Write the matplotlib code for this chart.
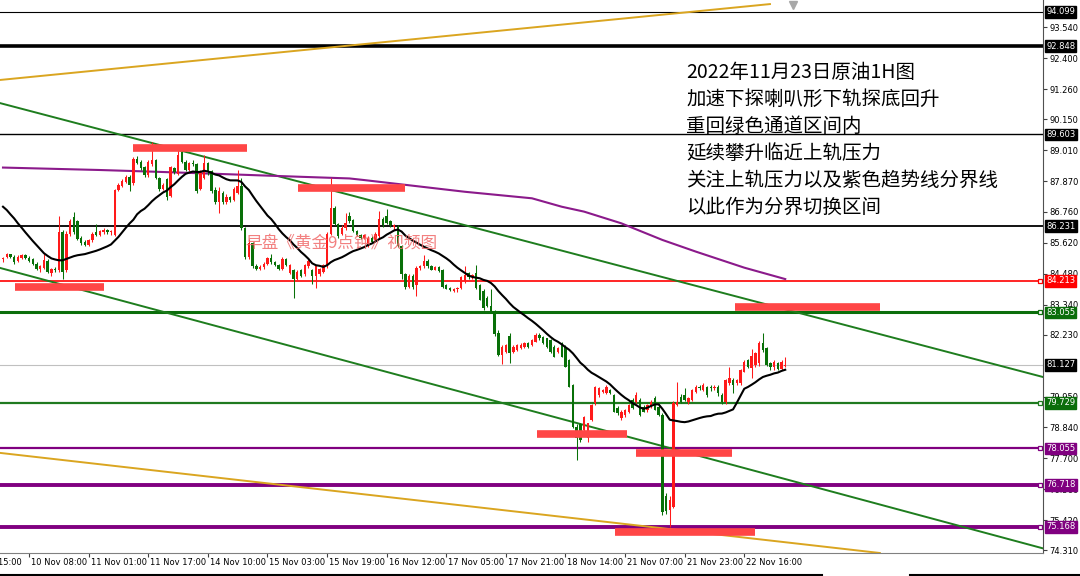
import numpy as np
import pandas as pd
import matplotlib.pyplot as plt
from matplotlib.lines import Line2D

plt.rcParams['font.family'] = ['DejaVu Sans']
CJK = ['Noto Sans CJK SC', 'DejaVu Sans']

# 1H candles, bar 0 = 10 Nov early morning, last bar = 23 Nov
opens = [
    85.00, 85.10, 85.20, 85.10, 84.95, 85.05, 85.15, 85.05, 85.00, 84.85,
    84.65, 84.70, 84.95, 84.50, 84.65, 84.60, 86.00, 84.60, 85.95, 86.55,
    86.40, 85.80, 85.65, 85.55, 85.70, 86.00, 85.90, 86.00, 86.10, 86.00,
    85.90, 87.55, 87.70, 87.85, 88.05, 87.80, 88.70, 88.60, 88.40, 88.10,
    88.50, 88.65, 88.00, 87.60, 87.95, 87.35, 88.35, 88.15, 88.95, 88.60,
    88.30, 88.55, 88.50, 87.60, 88.00, 88.55, 88.25, 87.55, 87.10, 87.45,
    87.10, 87.30, 87.20, 87.45, 87.70, 86.15, 85.10, 85.60, 84.75, 84.65,
    84.72, 84.85, 85.05, 84.90, 84.80, 84.65, 85.00, 84.50, 84.60, 84.30,
    84.60, 84.45, 84.75, 84.60, 84.40, 84.45, 84.55, 84.75, 85.95, 86.90,
    86.30, 85.95, 86.15, 86.60, 86.45, 86.05, 85.90, 85.80, 85.50, 85.80,
    85.70, 85.85, 86.50, 86.60, 86.40, 86.20, 86.20, 85.50, 84.45, 84.00,
    84.40, 84.05, 84.70, 84.75, 84.95, 84.75, 84.62, 84.72, 84.60, 84.05,
    83.95, 83.85, 83.90, 83.94, 84.20, 84.50, 84.35, 84.50, 84.06, 83.85,
    83.60, 83.30, 83.00, 82.30, 81.50, 81.61, 82.20, 81.61, 81.67, 81.73,
    81.80, 81.92, 81.86, 81.98, 82.22, 82.16, 82.10, 82.04, 81.80, 81.61,
    81.92, 81.80, 81.30, 80.39, 78.85, 78.95, 78.73, 78.43, 79.10, 79.71,
    80.02, 80.14, 80.10, 80.20, 80.02, 79.53, 79.16, 79.28, 79.41, 79.84,
    79.77, 79.84, 79.59, 79.47, 79.59, 79.90, 79.59, 79.28, 76.30, 75.80,
    75.90, 79.65, 79.96, 80.02, 79.77, 79.84, 80.14, 80.32, 80.20, 80.32,
    80.32, 80.26, 80.32, 80.02, 79.77, 80.45, 80.57, 80.45, 80.45, 80.88,
    81.30, 81.00, 81.12, 81.18, 81.92, 81.73, 81.18, 81.06, 81.18, 80.99,
    81.10]
highs = [
    85.10, 85.25, 85.22, 85.15, 85.15, 85.20, 85.20, 85.12, 85.05, 84.90,
    84.80, 85.20, 85.00, 84.70, 84.72, 86.60, 86.10, 86.05, 86.50, 86.75,
    86.45, 85.85, 85.70, 85.75, 86.00, 86.30, 86.10, 86.15, 86.12, 86.08,
    87.60, 87.80, 87.95, 88.10, 88.10, 88.75, 88.80, 88.65, 88.45, 88.65,
    89.33, 88.70, 88.05, 87.80, 88.00, 88.45, 88.40, 89.10, 89.00, 88.65,
    88.60, 88.65, 88.55, 88.30, 88.85, 88.60, 88.30, 87.65, 87.65, 87.50,
    87.40, 87.35, 87.65, 88.30, 88.00, 86.20, 85.75, 85.65, 84.85, 84.80,
    84.90, 85.10, 85.20, 84.95, 84.85, 85.10, 85.05, 84.85, 84.65, 84.60,
    84.65, 84.85, 85.00, 84.65, 84.80, 84.70, 84.85, 86.00, 88.00, 86.95,
    86.35, 86.25, 86.70, 86.75, 86.50, 86.10, 85.95, 85.95, 85.85, 85.85,
    86.00, 86.80, 86.55, 86.85, 86.45, 86.30, 86.25, 85.55, 84.50, 84.45,
    84.45, 84.75, 84.80, 85.15, 85.00, 84.80, 84.75, 84.75, 84.65, 84.10,
    84.00, 83.95, 84.00, 84.40, 84.75, 84.55, 84.45, 84.80, 84.10, 83.90,
    83.65, 83.90, 83.15, 82.40, 81.85, 81.90, 82.30, 81.85, 81.90, 81.92,
    81.96, 81.95, 82.08, 82.29, 82.30, 82.20, 82.12, 82.08, 81.85, 81.78,
    81.95, 81.85, 81.35, 80.42, 78.95, 79.00, 79.25, 79.00, 79.70, 80.35,
    80.30, 80.25, 80.39, 80.25, 80.05, 79.60, 79.45, 79.50, 79.70, 79.90,
    80.14, 79.90, 79.65, 79.70, 79.85, 80.00, 79.70, 79.35, 76.40, 76.30,
    79.80, 80.51, 80.05, 80.26, 79.95, 80.25, 80.40, 80.40, 80.45, 80.35,
    80.40, 80.38, 80.40, 80.10, 80.60, 81.06, 80.65, 80.60, 80.99, 81.30,
    81.35, 81.70, 81.60, 82.00, 82.29, 81.80, 81.25, 81.30, 81.25, 81.30,
    81.43]
lows = [
    84.90, 85.05, 85.05, 84.85, 84.90, 85.00, 85.00, 84.90, 84.80, 84.60,
    84.55, 84.65, 84.50, 84.40, 84.55, 84.55, 84.30, 84.55, 85.85, 85.95,
    85.70, 85.55, 85.50, 85.50, 85.65, 85.85, 85.85, 85.95, 85.95, 85.90,
    85.85, 87.50, 87.65, 87.80, 87.50, 87.75, 88.50, 88.30, 88.05, 88.05,
    88.45, 87.95, 87.50, 87.55, 87.20, 87.30, 88.15, 88.10, 88.55, 88.25,
    88.25, 88.45, 87.45, 87.55, 87.95, 88.10, 87.45, 87.05, 86.70, 87.05,
    87.05, 87.10, 87.15, 87.40, 86.10, 85.00, 85.00, 84.70, 84.60, 84.60,
    84.65, 84.80, 84.85, 84.75, 84.60, 84.60, 84.75, 84.45, 83.60, 84.25,
    84.35, 84.40, 84.70, 84.10, 83.95, 84.40, 84.50, 84.70, 85.90, 86.25,
    85.80, 85.90, 86.10, 86.35, 86.00, 85.85, 85.75, 85.75, 85.45, 85.60,
    85.65, 85.80, 86.20, 86.30, 86.20, 86.10, 85.45, 84.30, 83.90, 83.95,
    83.90, 83.65, 84.60, 84.70, 84.70, 84.60, 84.60, 84.55, 83.95, 83.90,
    83.85, 83.80, 83.80, 83.90, 84.15, 84.30, 84.30, 83.90, 83.50, 83.15,
    83.25, 83.05, 82.20, 81.45, 81.15, 81.58, 81.20, 81.55, 81.62, 81.70,
    81.75, 81.75, 81.82, 81.95, 82.05, 81.88, 81.76, 81.58, 81.40, 81.58,
    81.40, 81.03, 80.30, 78.80, 77.63, 78.30, 78.65, 78.30, 79.05, 79.65,
    79.95, 80.10, 80.05, 80.05, 79.38, 79.30, 79.10, 79.20, 79.35, 79.50,
    79.72, 79.25, 79.38, 79.40, 79.55, 79.45, 79.25, 75.60, 75.65, 75.18,
    75.85, 79.60, 79.72, 79.80, 79.70, 79.80, 80.10, 80.20, 80.15, 79.95,
    80.15, 80.20, 80.00, 79.70, 79.70, 80.40, 80.10, 80.40, 80.40, 80.85,
    81.00, 80.65, 81.05, 81.10, 81.60, 81.10, 80.95, 80.95, 80.95, 80.95,
    81.05]
closes = [
    85.05, 85.20, 85.10, 84.90, 85.10, 85.15, 85.05, 84.95, 84.85, 84.65,
    84.75, 84.98, 84.55, 84.65, 84.60, 86.00, 84.55, 85.95, 86.40, 86.00,
    85.75, 85.60, 85.55, 85.70, 85.95, 85.90, 86.05, 86.10, 86.00, 86.05,
    87.55, 87.75, 87.90, 88.05, 87.75, 88.70, 88.55, 88.35, 88.10, 88.60,
    88.65, 88.00, 87.60, 87.75, 87.30, 88.40, 88.20, 88.85, 88.60, 88.30,
    88.55, 88.50, 87.50, 88.20, 88.55, 88.20, 87.50, 87.10, 87.50, 87.10,
    87.30, 87.20, 87.60, 87.70, 86.15, 85.10, 85.60, 84.75, 84.65, 84.72,
    84.85, 85.05, 84.90, 84.78, 84.65, 85.00, 84.80, 84.80, 84.30, 84.55,
    84.40, 84.80, 84.95, 84.40, 84.75, 84.65, 84.80, 85.95, 86.90, 86.30,
    85.85, 86.15, 86.35, 86.40, 86.05, 85.90, 85.80, 85.90, 85.80, 85.65,
    85.95, 86.50, 86.25, 86.35, 86.25, 86.25, 85.50, 84.45, 84.00, 84.40,
    84.00, 84.70, 84.75, 84.95, 84.75, 84.62, 84.72, 84.58, 84.00, 83.92,
    83.88, 83.92, 83.95, 84.37, 84.43, 84.35, 84.42, 83.95, 83.52, 83.20,
    83.30, 83.12, 82.25, 81.50, 81.80, 81.86, 81.55, 81.80, 81.86, 81.86,
    81.92, 81.80, 82.04, 82.22, 82.10, 81.92, 81.80, 81.61, 81.43, 81.73,
    81.43, 81.06, 80.32, 78.85, 78.45, 78.36, 79.22, 78.98, 79.65, 80.32,
    80.26, 80.20, 80.32, 80.10, 79.41, 79.35, 79.41, 79.47, 79.65, 79.53,
    80.02, 79.28, 79.41, 79.65, 79.77, 79.47, 79.28, 75.70, 75.75, 76.15,
    79.72, 79.77, 79.77, 79.84, 79.90, 80.20, 80.32, 80.26, 80.39, 80.02,
    80.26, 80.32, 80.08, 79.77, 80.57, 80.63, 80.39, 80.57, 80.94, 81.24,
    81.06, 81.45, 81.55, 81.92, 81.67, 81.12, 81.06, 81.24, 80.99, 81.24,
    81.127]

# black MA20 on the first 19 bars (its inputs lie left of the screen)
ma_head = [86.94, 86.82, 86.66, 86.51, 86.33, 86.17, 86.00, 85.84, 85.68, 85.53,
           85.38, 85.23, 85.13, 85.04, 85.00, 84.97, 84.97, 85.02, 85.07]

# purple long MA, read at some bars
purple_bars = [0, 26, 40, 53, 80, 93, 97, 124, 142, 150, 156, 166, 177, 186, 199, 210]
purple_vals = [88.38, 88.29, 88.23, 88.17, 88.04, 87.98, 87.92, 87.49, 87.25, 86.94,
               86.76, 86.33, 85.72, 85.29, 84.70, 84.28]

# horizontal levels with their labels on the price scale
level_prices = [94.099, 92.848, 89.603, 86.231, 84.213, 83.055, 81.127, 79.729, 78.055, 76.718, 75.168]
level_colors = ['black', 'black', 'black', 'black', '#ff0000', '#0b6e0b', '#c0c0c0',
                '#1f7a1f', '#800080', '#800080', '#800080']
level_widths = [0.8, 2.6, 1.0, 1.3, 1.2, 2.2, 0.8, 1.6, 1.6, 2.8, 2.8]
label_colors = ['black', 'black', 'black', 'black', '#ff0000', '#0b6e0b', 'black',
                '#0b6e0b', '#800080', '#800080', '#800080']

# trend lines (bar, price) -> (bar, price)
trend_x0 = [-0.8, -0.8, -0.8, -0.8]
trend_p0 = [90.75, 84.69, 91.60, 77.89]
trend_x1 = [279.2, 279.2, 205.9, 235.4]
trend_p1 = [80.68, 74.38, 94.39, 74.21]
trend_colors = ['#1e7d1e', '#1e7d1e', '#daa520', '#daa520']

# red marker zones
zone_x0 = [3.2, 34.9, 79.1, 196.5, 143.4, 169.9, 164.3]
zone_x1 = [27.2, 65.5, 107.9, 235.4, 167.4, 195.6, 201.9]
zone_p = [84.00, 89.09, 87.64, 83.25, 78.58, 77.87, 74.99]

# 81.090 sits fully under the 81.127 box, so it is left out
price_ticks = [93.540, 92.400, 91.260, 90.150, 89.010, 87.870, 86.760, 85.620, 84.480,
               83.340, 82.230, 79.950, 78.840, 77.700, 76.560, 75.420, 74.310]
time_ticks = [-9, 7, 23, 39, 55, 71, 87, 103, 119, 135, 151, 167, 183, 199]
time_labels = ['9 Nov 15:00', '10 Nov 08:00', '11 Nov 01:00', '11 Nov 17:00', '14 Nov 10:00',
               '15 Nov 03:00', '15 Nov 19:00', '16 Nov 12:00', '17 Nov 05:00', '17 Nov 21:00',
               '18 Nov 14:00', '21 Nov 07:00', '21 Nov 23:00', '22 Nov 16:00']

note_lines = ['2022年11月23日原油1H图', '加速下探喇叭形下轨探底回升', '重回绿色通道区间内',
              '延续攀升临近上轨压力', '关注上轨压力以及紫色趋势线分界线', '以此作为分界切换区间']
watermark = '早盘《黄金9点钟》视频图'

fig = plt.figure(figsize=(10.8, 5.76), dpi=100)
ax = fig.add_axes([0, 1 - 553 / 576, 1043 / 1080, 553 / 576])

# levels
for p, col, w in zip(level_prices, level_colors, level_widths):
    ax.axhline(p, color=col, lw=w, zorder=2)

# trend lines
for x0, p0, x1, p1, col in zip(trend_x0, trend_p0, trend_x1, trend_p1, trend_colors):
    ax.plot([x0, x1], [p0, p1], color=col, lw=1.4, zorder=2.5)

# candles
o = np.array(opens); h = np.array(highs); l = np.array(lows); c = np.array(closes)
bars = np.arange(len(c))
cols = np.where(c >= o, '#ff1a1a', '#087008')
ax.vlines(bars, l, h, colors=cols, lw=0.75, zorder=3)
ax.bar(bars, np.maximum(np.abs(c - o), 0.03), bottom=np.minimum(o, c), width=0.65,
       color=cols, lw=0, zorder=3)

# moving averages
ma = pd.Series(closes).rolling(20).mean()
ma.iloc[:19] = ma_head
ax.plot(bars, ma, color='black', lw=1.5, zorder=4)
ax.plot(purple_bars, purple_vals, color='#8b1a8b', lw=1.5, zorder=2.6)

# red zones
ax.hlines(zone_p, zone_x0, zone_x1, colors='#ff4646', lw=5.5, zorder=6)

ax.text(65, 85.6, watermark, family=CJK, fontsize=12, color='#f06a6a', alpha=0.85,
        ha='left', va='center', zorder=7)

# price scale on the right
ax.yaxis.tick_right()
ax.set_yticks(price_ticks, [f'{v:.3f}' for v in price_ticks])
ax.tick_params(axis='y', labelsize=6, length=3, width=0.8, pad=1.5, color='#404040')
for p, col in zip(level_prices, label_colors):
    ax.annotate(f'{p:.3f}', xy=(1, p), xycoords=('axes fraction', 'data'), xytext=(2.2, 0),
                textcoords='offset points', ha='left', va='center', fontsize=6, color='white',
                bbox=dict(boxstyle='square,pad=0.15', fc=col, ec=col),
                annotation_clip=False, zorder=10)
for p, col in zip(level_prices[4:], level_colors[4:]):
    if col == '#c0c0c0':
        continue
    ax.plot([0.997], [p], transform=ax.get_yaxis_transform(), marker='s', ms=3,
            mfc='white', mec=col, mew=0.9, clip_on=False, zorder=9)

# time axis
ax.set_xticks(time_ticks)
ax.tick_params(axis='x', length=3, width=0.8, labelbottom=False, color='#404040')
for t, lab in zip(time_ticks, time_labels):
    ax.text(t + 0.5, -0.009, lab, transform=ax.get_xaxis_transform(), ha='left', va='top',
            fontsize=6, clip_on=False)

# limits last: set_xticks would widen them
ax.set_xlim(-0.805, 279.2)
ax.set_ylim(74.21, 94.54)

ax.spines['left'].set_visible(False)
ax.spines['top'].set_visible(False)
ax.spines['right'].set_color('#505050')
ax.spines['bottom'].set_color('#808080')

# notes
for i, line in enumerate(note_lines):
    fig.text(686 / 1080, 1 - (72 + 27 * i) / 576, line, family=CJK, fontsize=14,
             ha='left', va='center')

# chart shift marker and window edge
fig.add_artist(Line2D([793 / 1080], [1 - 5 / 576], marker='v', ms=6, color='#a8a8a8',
                      transform=fig.transFigure))
fig.add_artist(Line2D([0, 822 / 1080], [1.5 / 576, 1.5 / 576], color='black', lw=1.5,
                      transform=fig.transFigure))
fig.add_artist(Line2D([910 / 1080, 1], [1.5 / 576, 1.5 / 576], color='black', lw=1.5,
                      transform=fig.transFigure))

fig.savefig('out.png', dpi=100)
